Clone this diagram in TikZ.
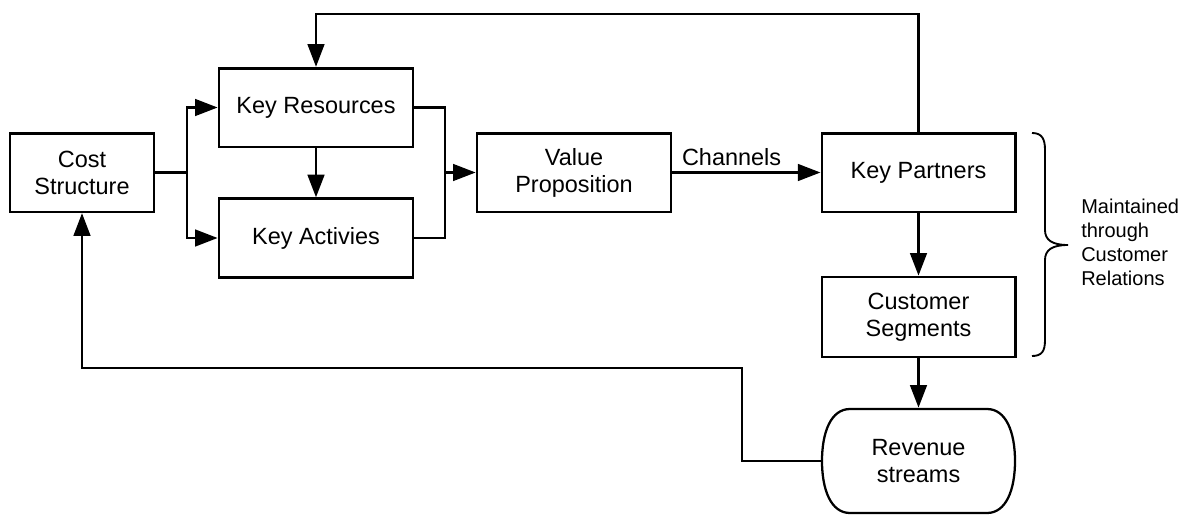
\documentclass[tikz,border=0pt]{standalone}
\usepackage{fontspec}
\setmainfont{Liberation Sans}
\usetikzlibrary{arrows.meta}
\begin{document}
\begin{tikzpicture}[x=0.75pt,y=-0.75pt,
  boxfont/.style={font=\fontsize{17.6pt}{20.3pt}\selectfont},
  box/.style={draw,line width=2pt,minimum height=59pt,align=center,inner sep=0pt,boxfont},
  conn/.style={line width=2pt},
  arr/.style={line width=2pt,-{Triangle[length=17pt,width=12.5pt]}},
  farr/.style={line width=1.7pt,-{Triangle[length=17pt,width=12.5pt]}},
  note/.style={align=left,inner sep=0pt,font=\fontsize{15pt}{18pt}\selectfont}]
\useasboundingbox (0,0) rectangle (1185,514);
\node[box,minimum width=108pt] (cost) at (82,172.5) {Cost\\Structure};
\node[box,minimum width=145.5pt] (kr) at (316,107.5) {Key Resources};
\node[box,minimum width=145.5pt] (ka) at (316,238) {Key Activies};
\node[box,minimum width=145.5pt] (vp) at (574,172.5) {Value\\Proposition};
\node[box,minimum width=145pt] (kp) at (918.5,172.5) {Key Partners};
\node[box,minimum width=145pt,minimum height=60pt] (cs) at (918.5,317) {Customer\\Segments};
\node[box,draw=none,minimum width=145pt,minimum height=78pt] (rev) at (918.5,461) {Revenue\\streams};
\draw[line width=1.7pt] (850,409) -- (987,409) .. controls (1006,409) and (1015,432) .. (1015,461)
  .. controls (1015,490) and (1006,513) .. (987,513)
  -- (850,513) .. controls (831,513) and (822,490) .. (822,461)
  .. controls (822,432) and (831,409) .. (850,409) -- cycle;
\coordinate (j1) at (187,172.5);
\coordinate (j2) at (445,172.5);
\coordinate (top) at (600,14);
\coordinate (b1) at (742,368);
\draw[conn] (cost.east) -- (j1);
\draw[arr] (j1) |- (kr.west);
\draw[arr] (j1) |- (ka.west);
\draw[arr] (kr.south) -- (ka.north);
\draw[conn] (kr.east) -| (j2) |- (ka.east);
\draw[arr] (j2) -- (vp.west);
\draw[arr] (vp.east) -- node[pos=0.4,above=1pt,boxfont] (ch) {Channels} (kp.west);
\draw[farr] (kp.north) |- (top) -| (kr.north);
\draw[arr] (kp.south) -- (cs.north);
\draw[arr] (cs.south) -- (rev.north);
\draw[farr] (rev.west) -| (b1) -| (cost.south);
\draw[line width=1.4pt] (1032,133) .. controls (1042,133) and (1045,139) .. (1045,150)
  -- (1045,230) .. controls (1045,240) and (1052,245) .. (1068,245)
  .. controls (1052,245) and (1045,250) .. (1045,260)
  -- (1045,340) .. controls (1045,351) and (1042,356) .. (1032,356);
\node[note,anchor=west] (mt) at (1081,242) {Maintained\\through\\Customer\\Relations};
\end{tikzpicture}
\end{document}
